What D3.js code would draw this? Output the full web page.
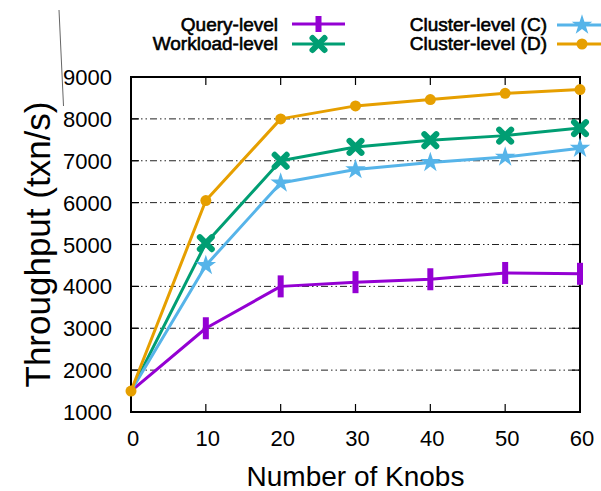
<!DOCTYPE html>
<html>
<head>
<meta charset="utf-8">
<script src="https://cdn.jsdelivr.net/npm/d3@7"></script>
<style>
  body { margin: 0; background: #fff; }
  text { font-family: "Liberation Sans", Arial, sans-serif; fill: #000; }
</style>
</head>
<body>
<div id="chart"></div>
<script>
// data
const knobs = [0, 10, 20, 30, 40, 50, 60];
const queryLevel = [1500, 3000, 4000, 4100, 4170, 4320, 4300];
const workloadLevel = [1500, 5030, 7000, 7330, 7490, 7600, 7780];
const clusterC = [1500, 4500, 6470, 6790, 6960, 7090, 7300];
const clusterD = [1500, 6050, 8000, 8310, 8460, 8610, 8700];
const yTicks = [1000, 2000, 3000, 4000, 5000, 6000, 7000, 8000, 9000];
const xTicks = [0, 10, 20, 30, 40, 50, 60];

// only the (D) series shows a marker at the 0-knob start point
const series = [
  {name: 'Query-level', values: queryLevel, color: '#9400d3', marker: 'bar', markAt0: false},
  {name: 'Workload-level', values: workloadLevel, color: '#009e73', marker: 'x', markAt0: false},
  {name: 'Cluster-level (C)', values: clusterC, color: '#56b4e9', marker: 'star', markAt0: false},
  {name: 'Cluster-level (D)', values: clusterD, color: '#e69f00', marker: 'circle', markAt0: true}
];

const W = 601, H = 491;
const pLeft = 131, pRight = 580, pTop = 77, pBottom = 412;

const svg = d3.select('#chart').append('svg').attr('width', W).attr('height', H);
const x = d3.scaleLinear().domain([0, 60]).range([pLeft, pRight]);
const y = d3.scaleLinear().domain([1000, 9000]).range([pBottom, pTop]);

// grid lines (dash-dot-dot)
svg.append('g').selectAll('line')
  .data(yTicks.filter(t => t > 1000 && t < 9000))
  .join('line')
  .attr('x1', pLeft).attr('x2', pRight)
  .attr('y1', d => y(d)).attr('y2', d => y(d))
  .attr('stroke', '#222').attr('stroke-width', 1)
  .attr('stroke-dasharray', '7,3,1.5,3,1.5,3');

// inner ticks on all four sides
const ticks = svg.append('g').attr('stroke', '#000').attr('stroke-width', 1.2);
xTicks.forEach(t => {
  ticks.append('line').attr('x1', x(t)).attr('x2', x(t)).attr('y1', pBottom).attr('y2', pBottom - 8);
  ticks.append('line').attr('x1', x(t)).attr('x2', x(t)).attr('y1', pTop).attr('y2', pTop + 8);
});
yTicks.forEach(t => {
  ticks.append('line').attr('x1', pLeft).attr('x2', pLeft + 8).attr('y1', y(t)).attr('y2', y(t));
  ticks.append('line').attr('x1', pRight).attr('x2', pRight - 8).attr('y1', y(t)).attr('y2', y(t));
});

// frame
svg.append('rect')
  .attr('x', pLeft).attr('y', pTop).attr('width', pRight - pLeft).attr('height', pBottom - pTop)
  .attr('fill', 'none').attr('stroke', '#000').attr('stroke-width', 2);

// tick labels
svg.append('g').selectAll('text').data(yTicks).join('text')
  .attr('x', 112).attr('y', d => y(d) + 8)
  .attr('text-anchor', 'end').attr('font-size', 22)
  .text(d => d);
svg.append('g').selectAll('text').data(xTicks).join('text')
  .attr('x', d => x(d) + 2).attr('y', 446)
  .attr('text-anchor', 'middle').attr('font-size', 22)
  .text(d => d);

// axis titles
svg.append('text')
  .attr('x', (pLeft + pRight) / 2).attr('y', 486)
  .attr('text-anchor', 'middle').attr('font-size', 28)
  .text('Number of Knobs');
svg.append('text')
  .attr('transform', `translate(50,${(pTop + pBottom) / 2}) rotate(-90)`)
  .attr('text-anchor', 'middle').attr('font-size', 35)
  .text('Throughput (txn/s)');

// stray pen stroke seen in the original
svg.append('line')
  .attr('x1', 59).attr('y1', 10).attr('x2', 63.5).attr('y2', 106)
  .attr('stroke', '#666').attr('stroke-width', 1);

function drawMarker(g, type, cx, cy, color, small) {
  if (type === 'bar') {
    const h = small ? 16 : 22;
    g.append('rect').attr('x', cx - 3).attr('y', cy - h / 2)
      .attr('width', 6).attr('height', h).attr('fill', color);
  } else if (type === 'x') {
    const r = 6;
    g.append('path')
      .attr('d', `M${cx - r},${cy - r}L${cx + r},${cy + r}M${cx - r},${cy + r}L${cx + r},${cy - r}`)
      .attr('stroke', color).attr('stroke-width', 6).attr('stroke-linecap', 'round');
  } else if (type === 'star') {
    g.append('path')
      .attr('d', d3.symbol(d3.symbolStar, 130)())
      .attr('transform', `translate(${cx},${cy})`)
      .attr('fill', color);
  } else {
    g.append('circle').attr('cx', cx).attr('cy', cy).attr('r', 5.5).attr('fill', color);
  }
}

const line = d3.line().x((d, i) => x(knobs[i])).y(d => y(d));

series.forEach(s => {
  const g = svg.append('g');
  g.append('path').datum(s.values)
    .attr('d', line)
    .attr('fill', 'none').attr('stroke', s.color).attr('stroke-width', 3)
    .attr('stroke-linejoin', 'round');
  s.values.forEach((v, i) => {
    if (i === 0 && !s.markAt0) return;
    drawMarker(g, s.marker, x(knobs[i]), y(v), s.color, false);
  });
});

// legend
const legendPos = [
  {tx: 278, ty: 31, x1: 292, x2: 345, ly: 24},
  {tx: 278, ty: 50, x1: 292, x2: 345, ly: 44},
  {tx: 547, ty: 31, x1: 557, x2: 607, ly: 25},
  {tx: 547, ty: 50, x1: 557, x2: 607, ly: 44}
];
series.forEach((s, i) => {
  const p = legendPos[i];
  const g = svg.append('g');
  g.append('text')
    .attr('x', p.tx).attr('y', p.ty)
    .attr('text-anchor', 'end').attr('font-size', 19)
    .attr('stroke', '#000').attr('stroke-width', 0.6)
    .text(s.name);
  g.append('line')
    .attr('x1', p.x1).attr('x2', p.x2).attr('y1', p.ly).attr('y2', p.ly)
    .attr('stroke', s.color).attr('stroke-width', 3);
  drawMarker(g, s.marker, (p.x1 + p.x2) / 2, p.ly, s.color, true);
});
</script>
</body>
</html>
